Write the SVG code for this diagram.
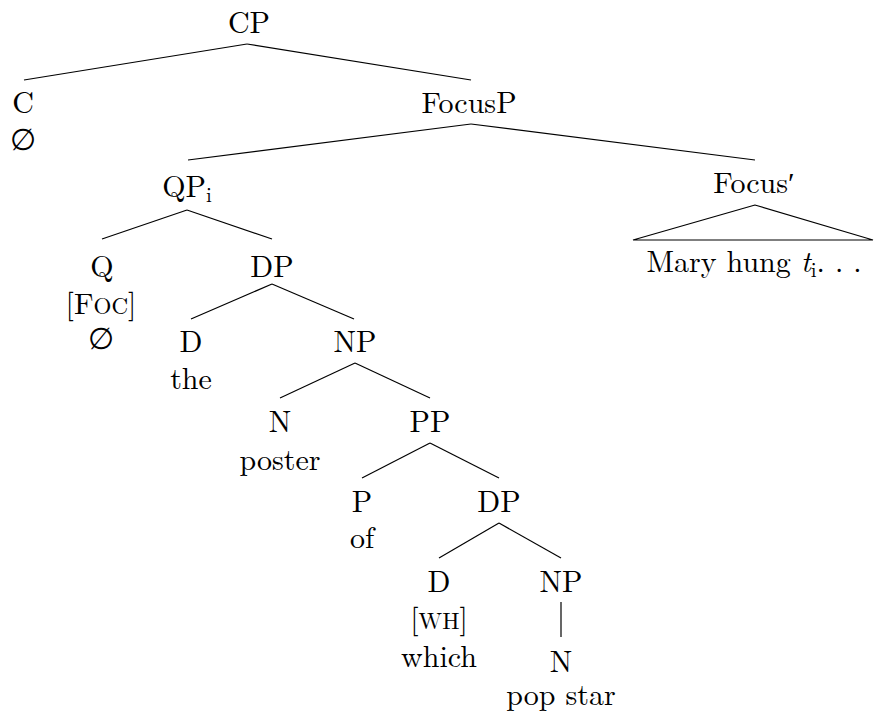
<svg xmlns="http://www.w3.org/2000/svg" width="874" height="717" viewBox="0 0 874 717">
  <style>
    text { font-size: 30px; fill: #000; text-anchor: middle; }
    .sub { font-size: 21px; }
    .sc { font-size: 23px; }
    .edges line, .edges polygon { stroke: #000; stroke-width: 1.2; fill: none; }
  </style>
  <rect width="874" height="717" fill="#fff"/>

  <!-- branches -->
  <g id="edges" class="edges">
    <line x1="247" y1="44" x2="24" y2="80"/>
    <line x1="247" y1="44" x2="471" y2="80"/>
    <line x1="471" y1="124" x2="188" y2="160"/>
    <line x1="471" y1="124" x2="755" y2="160"/>
    <line x1="187" y1="210" x2="102" y2="239"/>
    <line x1="187" y1="210" x2="272" y2="239"/>
    <line x1="272" y1="284" x2="191" y2="319"/>
    <line x1="272" y1="284" x2="354" y2="319"/>
    <line x1="355" y1="363" x2="280" y2="398"/>
    <line x1="355" y1="363" x2="430" y2="398"/>
    <line x1="430" y1="443" x2="362" y2="478"/>
    <line x1="430" y1="443" x2="499" y2="478"/>
    <line x1="499" y1="523" x2="439" y2="558"/>
    <line x1="499" y1="523" x2="561" y2="558"/>
    <line x1="561" y1="602" x2="561" y2="637"/>
    <polygon points="755,205 633,240 873,240"/>
  </g>

  <g font-family="Latin Modern Roman, Liberation Serif, DejaVu Serif, serif">
  <g id="cp"><text x="249" y="33">CP</text></g>
  <g id="c">
    <text x="23" y="113">C</text>
    <text x="23" y="150">∅</text>
  </g>
  <g id="focusp"><text x="469" y="113">FocusP</text></g>
  <g id="qp"><text x="187" y="197">QP<tspan class="sub" dy="5">i</tspan></text></g>
  <g id="q">
    <text x="102" y="277">Q</text>
    <text x="101" y="314">[F<tspan class="sc">OC</tspan>]</text>
    <text x="101" y="349">∅</text>
  </g>
  <g id="dp1"><text x="272" y="277">DP</text></g>
  <g id="d1">
    <text x="191" y="352">D</text>
    <text x="191" y="389">the</text>
  </g>
  <g id="np1"><text x="355" y="352">NP</text></g>
  <g id="n1">
    <text x="280" y="432">N</text>
    <text x="280" y="470">poster</text>
  </g>
  <g id="pp"><text x="430" y="432">PP</text></g>
  <g id="p">
    <text x="362" y="512">P</text>
    <text x="362" y="548">of</text>
  </g>
  <g id="dp2"><text x="499" y="512">DP</text></g>
  <g id="d2">
    <text x="439" y="592">D</text>
    <text x="439" y="629">[<tspan class="sc">WH</tspan>]</text>
    <text x="439" y="667">which</text>
  </g>
  <g id="np2"><text x="561" y="592">NP</text></g>
  <g id="n2">
    <text x="561" y="672">N</text>
    <text x="561" y="705">pop star</text>
  </g>
  <g id="focusbar"><text x="754" y="193">Focus′</text></g>
  <g id="focuscontent">
    <text x="754" y="272">Mary hung <tspan font-style="italic">t</tspan><tspan class="sub" dy="5">i</tspan><tspan dy="-5">. . .</tspan></text>
  </g>
  </g>
</svg>
